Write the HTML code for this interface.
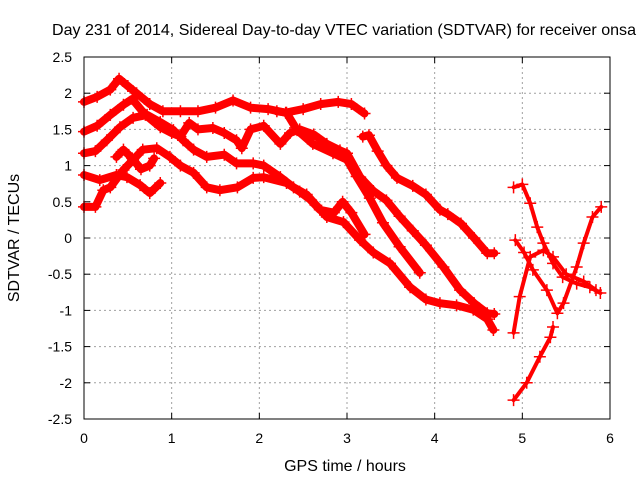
<!DOCTYPE html>
<html><head><meta charset="utf-8"><style>
body{margin:0;background:#fff}
svg{display:block;font-family:"Liberation Sans",sans-serif}
</style></head><body>
<svg id="chart" width="640" height="480" viewBox="0 0 640 480">
<rect width="640" height="480" fill="#fff"/>
<text x="52" y="35" font-size="16" textLength="584" lengthAdjust="spacingAndGlyphs">Day 231 of 2014, Sidereal Day-to-day VTEC variation (SDTVAR) for receiver onsa</text>
<text x="345" y="471" font-size="16" text-anchor="middle">GPS time / hours</text>
<text x="19" y="238" font-size="16" text-anchor="middle" transform="rotate(-90 19 238)">SDTVAR / TECUs</text>
<g id="grid"></g>
<g id="ticks"></g>
<g id="marks"></g>
<rect x="84" y="57" width="526" height="362" fill="none" stroke="#000" stroke-width="1"/>
</svg>
<script>
const xTicks=[0,1,2,3,4,5,6];
const yTicks=[2.5,2,1.5,1,0.5,0,-0.5,-1,-1.5,-2,-2.5];
const trackA=[[0,1.88],[0.15,1.95],[0.3,2.05],[0.4,2.2],[0.5,2.1],[0.6,2.0],[0.75,1.85],[0.9,1.75],[1.1,1.75],[1.3,1.75],[1.5,1.8],[1.7,1.9],[1.9,1.8],[2.1,1.78],[2.3,1.73],[2.5,1.78],[2.7,1.85],[2.9,1.88],[3.05,1.85],[3.2,1.72]];
const trackB=[[0,1.47],[0.15,1.55],[0.3,1.7],[0.45,1.84],[0.55,1.92],[0.7,1.7],[0.87,1.53],[1.0,1.45],[1.1,1.4],[1.2,1.59],[1.3,1.5],[1.47,1.52],[1.6,1.45],[1.74,1.35],[1.8,1.24],[1.9,1.5],[2.05,1.55],[2.24,1.3],[2.35,1.45],[2.46,1.5],[2.62,1.43],[2.77,1.3],[2.92,1.21],[3.0,1.17],[3.15,0.84],[3.3,0.65],[3.45,0.52],[3.6,0.3],[3.75,0.1],[3.9,-0.1],[4.1,-0.4],[4.29,-0.72],[4.45,-0.9],[4.6,-1.04],[4.68,-1.05]];
const trackC=[[2.2,1.75],[2.31,1.73],[2.43,1.49],[2.61,1.3],[2.84,1.17],[3.0,1.08],[3.11,0.85],[3.26,0.55],[3.41,0.21],[3.6,-0.12],[3.83,-0.48]];
const trackD=[[0,1.17],[0.13,1.2],[0.26,1.35],[0.41,1.53],[0.56,1.66],[0.72,1.7],[0.87,1.6],[1.02,1.49],[1.13,1.35],[1.25,1.22],[1.4,1.12],[1.6,1.15],[1.74,1.03],[1.93,1.03],[2.05,1.0],[2.24,0.84],[2.39,0.7],[2.54,0.6],[2.65,0.45],[2.77,0.29],[2.96,0.22],[3.15,-0.03],[3.3,-0.2],[3.49,-0.35],[3.72,-0.68],[3.9,-0.85],[4.06,-0.9],[4.25,-0.93],[4.44,-0.99],[4.6,-1.12],[4.67,-1.27]];
const trackE=[[0,0.43],[0.13,0.43],[0.22,0.66],[0.3,0.7],[0.45,0.94],[0.56,1.08],[0.67,1.22],[0.83,1.24],[0.98,1.12],[1.1,1.0],[1.25,0.9],[1.4,0.7],[1.55,0.66],[1.75,0.7],[1.93,0.83],[2.05,0.84],[2.31,0.76],[2.46,0.64],[2.58,0.53],[2.69,0.39],[2.85,0.35],[2.95,0.5],[3.05,0.35],[3.2,0.05]];
const trackF=[[3.18,1.4],[3.25,1.42],[3.35,1.2],[3.45,1.0],[3.57,0.83],[3.75,0.72],[3.9,0.6],[4.06,0.39],[4.15,0.33],[4.3,0.2],[4.45,0.0],[4.6,-0.21],[4.68,-0.21]];
const trackG=[[0,0.87],[0.18,0.8],[0.37,0.87],[0.49,0.84],[0.64,0.73],[0.75,0.62],[0.87,0.76]];
const trackH=[[0.37,1.12],[0.45,1.22],[0.55,1.1],[0.65,0.95],[0.75,1.0],[0.8,1.1]];
const trackR1=[[4.9,0.7],[5.0,0.74],[5.09,0.48],[5.17,0.15],[5.24,-0.07],[5.35,-0.35],[5.46,-0.54],[5.62,-0.63],[5.77,-0.68],[5.89,-0.76]];
const trackR2=[[4.92,-0.03],[5.02,-0.2],[5.12,-0.44],[5.28,-0.72],[5.4,-1.04],[5.47,-0.9],[5.62,-0.4],[5.7,-0.07],[5.8,0.29],[5.9,0.43]];
const trackR3=[[4.9,-1.31],[4.97,-0.81],[5.09,-0.26],[5.24,-0.17],[5.35,-0.26],[5.5,-0.5],[5.7,-0.6],[5.84,-0.72]];
const trackR4=[[4.9,-2.24],[5.05,-2.0],[5.2,-1.64],[5.32,-1.37],[5.35,-1.23]];
const tracks=[trackA,trackB,trackC,trackD,trackE,trackF,trackG,trackH,trackR1,trackR2,trackR3,trackR4];
const X0=84,X1=610,Y0=57,Y1=419;
function sx(t){return X0+(t-0)/(6-0)*(X1-X0);}
function sy(v){return Y1-(v+2.5)/5*(Y1-Y0);}
const NS="http://www.w3.org/2000/svg";
function mk(tag,attrs,parent){const e=document.createElementNS(NS,tag);for(const k in attrs)e.setAttribute(k,attrs[k]);parent.appendChild(e);return e;}
const grid=document.getElementById('grid'),ticks=document.getElementById('ticks'),marks=document.getElementById('marks');
xTicks.forEach(t=>{
  const x=sx(t);
  if(t>0&&t<6){const l=mk('line',{x1:x,x2:x,y1:Y0,y2:Y1,stroke:'#a0a0a0','stroke-dasharray':'2,3'},grid);
  
  }
  mk('line',{x1:x,x2:x,y1:Y1,y2:Y1-6,stroke:'#000'},ticks);
  mk('line',{x1:x,x2:x,y1:Y0,y2:Y0+6,stroke:'#000'},ticks);
  const tx=mk('text',{x:x,y:443,'font-size':14,'text-anchor':'middle'},ticks);
  tx.textContent=t;
  
  
});
yTicks.forEach(v=>{
  const y=sy(v);
  if(v>-2.5&&v<2.5){const l=mk('line',{x1:X0,x2:X1,y1:y,y2:y,stroke:'#a0a0a0','stroke-dasharray':'2,3'},grid);
  
  }
  mk('line',{x1:X0,x2:X0+6,y1:y,y2:y,stroke:'#000'},ticks);
  mk('line',{x1:X1,x2:X1-6,y1:y,y2:y,stroke:'#000'},ticks);
  const tx=mk('text',{x:72,y:y+5,'font-size':14,'text-anchor':'end'},ticks);
  tx.textContent=v;
  
  
});
tracks.forEach((tr,i)=>{
  const g=mk('g',{},marks);
  
  
  const pts=tr.map(p=>sx(p[0]).toFixed(1)+','+sy(p[1]).toFixed(1)).join(' ');
  const isR=i>=8;
  mk('polyline',{points:pts,fill:'none',stroke:'#f00','stroke-width':isR?4:8,'stroke-linejoin':'round','stroke-linecap':'round'},g);
  tr.forEach(p=>{
    const x=sx(p[0]),y=sy(p[1]);
    const m=mk('path',{d:`M${x-6} ${y}H${x+6}M${x} ${y-6}V${y+6}`,stroke:'#f00','stroke-width':1.5},g);
    
    
  });
});
</script>
</body></html>
